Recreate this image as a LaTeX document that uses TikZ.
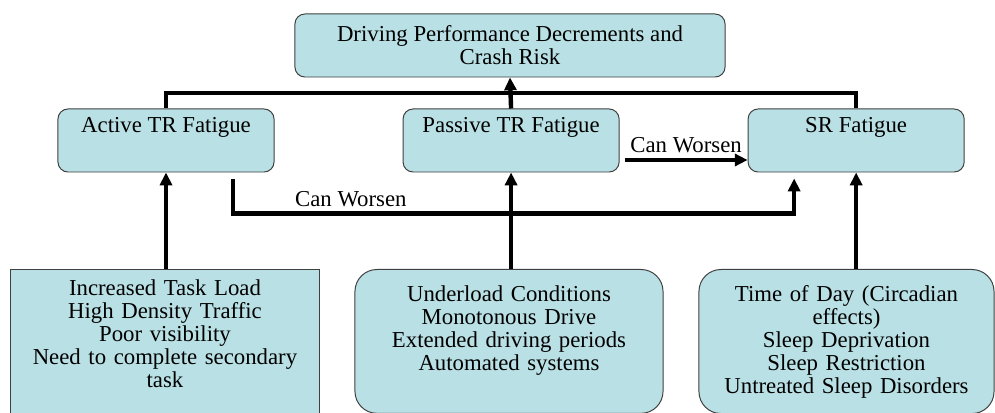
\documentclass[tikz,border=0pt]{standalone}
\usepackage{fontspec}
\setmainfont{Liberation Serif}
\usetikzlibrary{arrows.meta,positioning}
\definecolor{boxfill}{RGB}{185,224,228}

\begin{document}
\begin{tikzpicture}[
  x=0.025cm, y=-0.025cm,
  every node/.style={align=center, font=\fontsize{16.2}{16.3}\selectfont},
  box/.style={rectangle, draw=black!75, line width=0.7pt, fill=boxfill},
  outcome/.style={box, rounded corners=0.25cm, minimum width=10.75cm, minimum height=1.575cm},
  stage/.style={box, rounded corners=0.25cm, minimum width=5.4cm, minimum height=1.575cm, text depth=0.76cm},
  cause/.style={box, anchor=north, text width=7.5cm, inner xsep=0.1cm},
  wire/.style={line width=0.11cm},
  arrow/.style={wire, -{Triangle[length=0.32cm, width=0.3cm]}}
]
\useasboundingbox (0,0) rectangle (995,413);
\clip (0,0) rectangle (995,413);

% --- OUTCOME ---
\node[outcome] (risk) at (510,45.5) {Driving Performance Decrements and\\ Crash Risk};

% --- FATIGUE TYPES ---
\node[stage] (active) at (166,140.5) {Active TR Fatigue};
\node[stage, right=3.2cm of active] (passive) {Passive TR Fatigue};
\node[stage, right=3.2cm of passive] (sr) {SR Fatigue};

% --- CAUSES (run off the bottom edge) ---
\node[cause, inner ysep=0.26cm, text depth=3cm] (taskload) at (165,269)
  {Increased Task Load\\ High Density Traffic\\ Poor visibility\\ Need to complete secondary\\ task};
\node[cause, rounded corners=0.55cm, inner ysep=0.41cm, text depth=2.38cm] (underload) at (509,269)
  {Underload Conditions\\ Monotonous Drive\\ Extended driving periods\\ Automated systems};
\node[cause, rounded corners=0.55cm, inner ysep=0.41cm, text depth=2.38cm, text width=7.175cm] (circadian) at (846.5,269)
  {Time of Day (Circadian\\ effects)\\ Sleep Deprivation\\ Sleep Restriction\\ Untreated Sleep Disorders};

% --- CONNECTORS ---
\coordinate (bus) at (510,93);
\draw[wire] (active.north) |- (bus) -| (sr.north);
\draw[arrow] (passive.north) -- (risk.south);

\draw[arrow] (active.south |- taskload.north) -- (active.south);
\draw[arrow] (passive.south |- underload.north) -- (passive.south);
\draw[arrow] (sr.south |- circadian.north) -- (sr.south);

\draw[arrow] ([shift={(5,19.5)}]passive.east) -- ([shift={(0,19.5)}]sr.west)
      node[midway, above] (worsen1) {Can Worsen};
\draw[arrow] ([shift={(67,7)}]active.south) -- ++(0,34) -| ([shift={(-62,6)}]sr.south)
      node[pos=0.105, above] (worsen2) {Can Worsen};

\end{tikzpicture}
\end{document}
